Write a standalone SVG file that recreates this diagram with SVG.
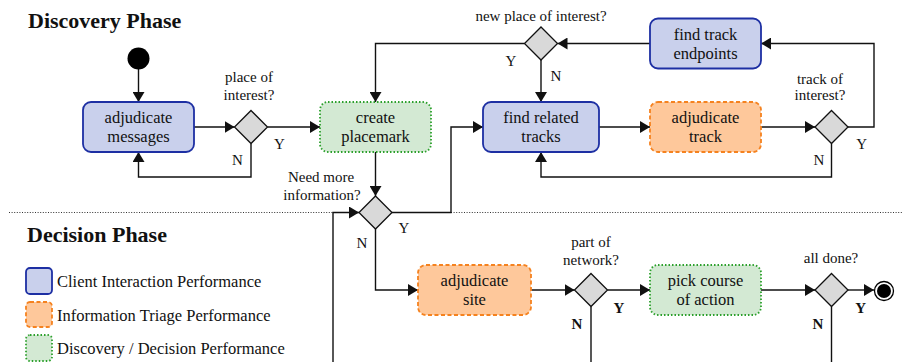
<svg xmlns="http://www.w3.org/2000/svg" width="903" height="362" viewBox="0 0 903 362" font-family="'Liberation Serif', Tinos, 'Times New Roman', Times, 'DejaVu Serif', serif">
<style>
text{font-family:"Liberation Serif",Tinos,"Times New Roman",Times,"DejaVu Serif",serif;fill:#111}
.h{font-size:22px;font-weight:bold}
.t{font-size:16.5px;text-anchor:middle}
.l{font-size:15px;text-anchor:middle}
.lg{font-size:16.5px}
.yn{font-size:15px;text-anchor:middle}
.b{font-weight:bold}
.blue{fill:#c9d0ec;stroke:#1d2fa3;stroke-width:1.8}
.orange{fill:#fec89b;stroke:#f5821f;stroke-width:1.8;stroke-dasharray:4,2.5}
.green{fill:#d3e9d3;stroke:#2ca02c;stroke-width:1.8;stroke-dasharray:1.5,2}
.dia{fill:#d9d9d9;stroke:#111;stroke-width:1.3}
.c{fill:none;stroke:#111;stroke-width:1.4}
.ca{fill:none;stroke:#111;stroke-width:1.4;marker-end:url(#ah)}
</style>
<defs>
<marker id="ah" markerUnits="userSpaceOnUse" markerWidth="10" markerHeight="12" refX="10" refY="6" orient="auto">
<path d="M0,0 L10,6 L0,12 z" fill="#111"/>
</marker>
</defs>
<line x1="9" y1="212.5" x2="903" y2="212.5" stroke="#333" stroke-width="1.2" stroke-dasharray="1,1.6"/>
<text class="h" x="28" y="28">Discovery Phase</text>
<text class="h" x="27" y="242">Decision Phase</text>
<g id="connectors">
<path class="ca" d="M138.5,69 V102"/>
<path class="ca" d="M194,127 H234.5"/>
<path class="ca" d="M251,143.5 V177 H138.5 V152"/>
<path class="ca" d="M267.5,127 H320"/>
<path class="ca" d="M375.5,152 V196"/>
<path class="ca" d="M524.5,43.5 H375.5 V102"/>
<path class="ca" d="M541,60 V102"/>
<path class="ca" d="M599,127 H650"/>
<path class="ca" d="M761,127 H815"/>
<path class="ca" d="M848,127 H874 V43.5 H761"/>
<path class="ca" d="M650,43.5 H557.5"/>
<path class="ca" d="M831.5,143.5 V177 H541 V152"/>
<path class="ca" d="M392,212.5 H451 V127 H483"/>
<path class="ca" d="M375.5,229 V290 H418"/>
<path class="ca" d="M531,290 H574.5"/>
<path class="ca" d="M607.5,290 H650"/>
<path class="ca" d="M761,290 H815"/>
<path class="ca" d="M848,290 H874"/>
<path class="c" d="M591,306.5 V362"/>
<path class="c" d="M831.5,306.5 V362"/>
<path class="ca" d="M333,362 V212.5 H359"/>
</g>
<g id="start"><circle cx="138.5" cy="58.5" r="11" fill="#000"/></g>
<g id="end"><circle cx="884" cy="291" r="9.5" fill="#fff" stroke="#000" stroke-width="1.3"/><circle cx="884" cy="291" r="7" fill="#000"/></g>
<g id="adjudicate-messages"><rect class="blue" x="83" y="102" width="111" height="50" rx="8"/><text class="t" x="138.5" y="123">adjudicate</text><text class="t" x="138.5" y="142">messages</text></g>
<g id="create-placemark"><rect class="green" x="320" y="102" width="111" height="50" rx="8"/><text class="t" x="375.5" y="123">create</text><text class="t" x="375.5" y="142">placemark</text></g>
<g id="find-related-tracks"><rect class="blue" x="483" y="102" width="116" height="50" rx="8"/><text class="t" x="541" y="123">find related</text><text class="t" x="541" y="142">tracks</text></g>
<g id="adjudicate-track"><rect class="orange" x="650" y="102" width="111" height="50" rx="8"/><text class="t" x="705.5" y="123">adjudicate</text><text class="t" x="705.5" y="142">track</text></g>
<g id="find-track-endpoints"><rect class="blue" x="650" y="18.5" width="111" height="50" rx="8"/><text class="t" x="705.5" y="40">find track</text><text class="t" x="705.5" y="59">endpoints</text></g>
<g id="adjudicate-site"><rect class="orange" x="418" y="265" width="113" height="50" rx="8"/><text class="t" x="474.5" y="286">adjudicate</text><text class="t" x="474.5" y="305">site</text></g>
<g id="pick-course"><rect class="green" x="650" y="265" width="111" height="50" rx="8"/><text class="t" x="705.5" y="286">pick course</text><text class="t" x="705.5" y="305">of action</text></g>
<g id="d-place"><path class="dia" d="M251,110.5 L267.5,127 L251,143.5 L234.5,127 z"/><text class="l" x="249" y="82">place of</text><text class="l" x="249" y="100">interest?</text><text class="yn" x="279.3" y="149">Y</text><text class="yn" x="237.3" y="165">N</text></g>
<g id="d-newplace"><path class="dia" d="M541,27 L557.5,43.5 L541,60 L524.5,43.5 z"/><text class="l" x="541" y="21">new place of interest?</text><text class="yn" x="511" y="65.5">Y</text><text class="yn" x="556" y="81">N</text></g>
<g id="d-track"><path class="dia" d="M831.5,110.5 L848,127 L831.5,143.5 L815,127 z"/><text class="l" x="820" y="84">track of</text><text class="l" x="820" y="100">interest?</text><text class="yn" x="861.7" y="149">Y</text><text class="yn" x="819" y="165">N</text></g>
<g id="d-need"><path class="dia" d="M375.5,196 L392,212.5 L375.5,229 L359,212.5 z"/><text class="l" x="321" y="182">Need more</text><text class="l" x="322" y="200">information?</text><text class="yn" x="404" y="233">Y</text><text class="yn" x="362" y="248">N</text></g>
<g id="d-network"><path class="dia" d="M591,273.5 L607.5,290 L591,306.5 L574.5,290 z"/><text class="l" x="591" y="247">part of</text><text class="l" x="591" y="265">network?</text><text class="yn b" x="619" y="312.5">Y</text><text class="yn b" x="577" y="329">N</text></g>
<g id="d-done"><path class="dia" d="M831.5,273.5 L848,290 L831.5,306.5 L815,290 z"/><text class="l" x="831" y="263">all done?</text><text class="yn b" x="860.7" y="312.5">Y</text><text class="yn b" x="818" y="329">N</text></g>
<g id="legend">
<rect class="blue" x="26" y="268" width="26" height="26" rx="4"/><text class="lg" x="57" y="287">Client Interaction Performance</text>
<rect class="orange" x="26" y="302" width="26" height="25" rx="4"/><text class="lg" x="57" y="321">Information Triage Performance</text>
<rect class="green" x="26" y="335" width="26" height="26" rx="4"/><text class="lg" x="57" y="354">Discovery / Decision Performance</text>
</g>
</svg>
